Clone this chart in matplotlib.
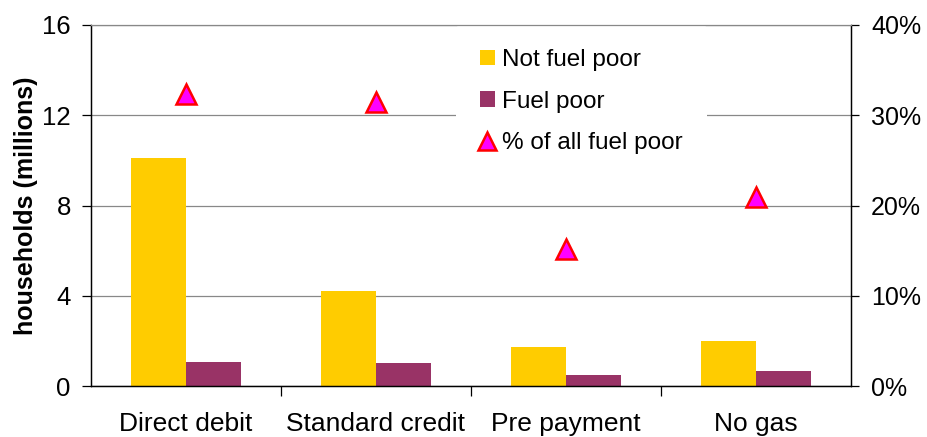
import matplotlib
matplotlib.use("Agg")
import matplotlib.pyplot as plt
import numpy as np
from matplotlib.patches import Patch
from matplotlib.lines import Line2D
from matplotlib.ticker import FixedLocator, FuncFormatter

plt.rcParams['font.family'] = ['Liberation Sans', 'DejaVu Sans']

categories = ["Direct debit", "Standard credit", "Pre payment", "No gas"]
not_fuel_poor = [10.1, 4.2, 1.75, 2.0]
fuel_poor = [1.05, 1.0, 0.5, 0.67]
pct_all_fuel_poor = [32.4, 31.5, 15.2, 20.9]

FS = 17.5

fig = plt.figure(figsize=(9.27, 4.37), dpi=100)
ax = fig.add_axes([91/927, 1-386/437, (851-91)/927, (386-25)/437])
ax2 = ax.twinx()

x = np.arange(len(categories))
w = 0.29
ax.bar(x - w/2, not_fuel_poor, width=w, color="#FFCC00", zorder=2)
ax.bar(x + w/2, fuel_poor, width=w, color="#993366", zorder=2)
ax2.plot(x, pct_all_fuel_poor, linestyle="none", marker="^", markersize=14,
         markerfacecolor="#FF00FF", markeredgecolor="#FF0000", markeredgewidth=1.8, zorder=3)

ax.set_xlim(-0.5, len(categories) - 0.5)
ax.set_ylim(0, 16)
ax.set_yticks([0, 4, 8, 12, 16])
ax2.set_ylim(0, 40)
ax2.set_yticks([0, 10, 20, 30, 40])
ax2.yaxis.set_major_formatter(FuncFormatter(lambda v, p: f"{int(v)}%"))

ax.grid(axis="y", color="#888888", linewidth=0.9, zorder=0)
ax.set_axisbelow(True)

ax.set_xticks(x)
ax.set_xticklabels(categories, fontsize=19)
ax.xaxis.set_minor_locator(FixedLocator(np.arange(0.5, len(categories) - 0.5, 1)))
ax.tick_params(axis="x", which="major", length=0, pad=19)
ax.tick_params(axis="x", which="minor", length=7, direction="out", width=0.9)
ax.tick_params(axis="y", labelsize=18.5, length=6.5, width=0.9, pad=8)
ax2.tick_params(axis="y", labelsize=18, length=6, width=0.9, pad=8.5)

for a in (ax, ax2):
    for s in ("left", "right", "bottom"):
        a.spines[s].set_linewidth(0.9)
ax.spines["top"].set_visible(False)
ax2.spines["top"].set_color("#888888")
ax2.spines["top"].set_linewidth(0.9)
ax2.spines["top"].set_zorder(10)

ax.set_ylabel("households (millions)", fontsize=18, fontweight="bold", labelpad=3)

handles = [
    Patch(facecolor="#FFCC00", edgecolor="none"),
    Patch(facecolor="#993366", edgecolor="none"),
    Line2D([], [], linestyle="none", marker="^", markersize=13,
           markerfacecolor="#FF00FF", markeredgecolor="#FF0000", markeredgewidth=1.8),
]
labels = ["Not fuel poor", "Fuel poor", "% of all fuel poor"]
leg = ax2.legend(handles, labels, loc="upper left", bbox_to_anchor=(0.480, 1.0),
                 frameon=True, fontsize=FS, handlelength=0.6, handleheight=0.6,
                 handletextpad=0.3, labelspacing=0.8, borderpad=1.0,
                 borderaxespad=0)
leg.get_frame().set_facecolor("white")
leg.get_frame().set_edgecolor("none")
leg.get_frame().set_alpha(1)
leg.set_zorder(5)

fig.savefig("out.png", dpi=100)
